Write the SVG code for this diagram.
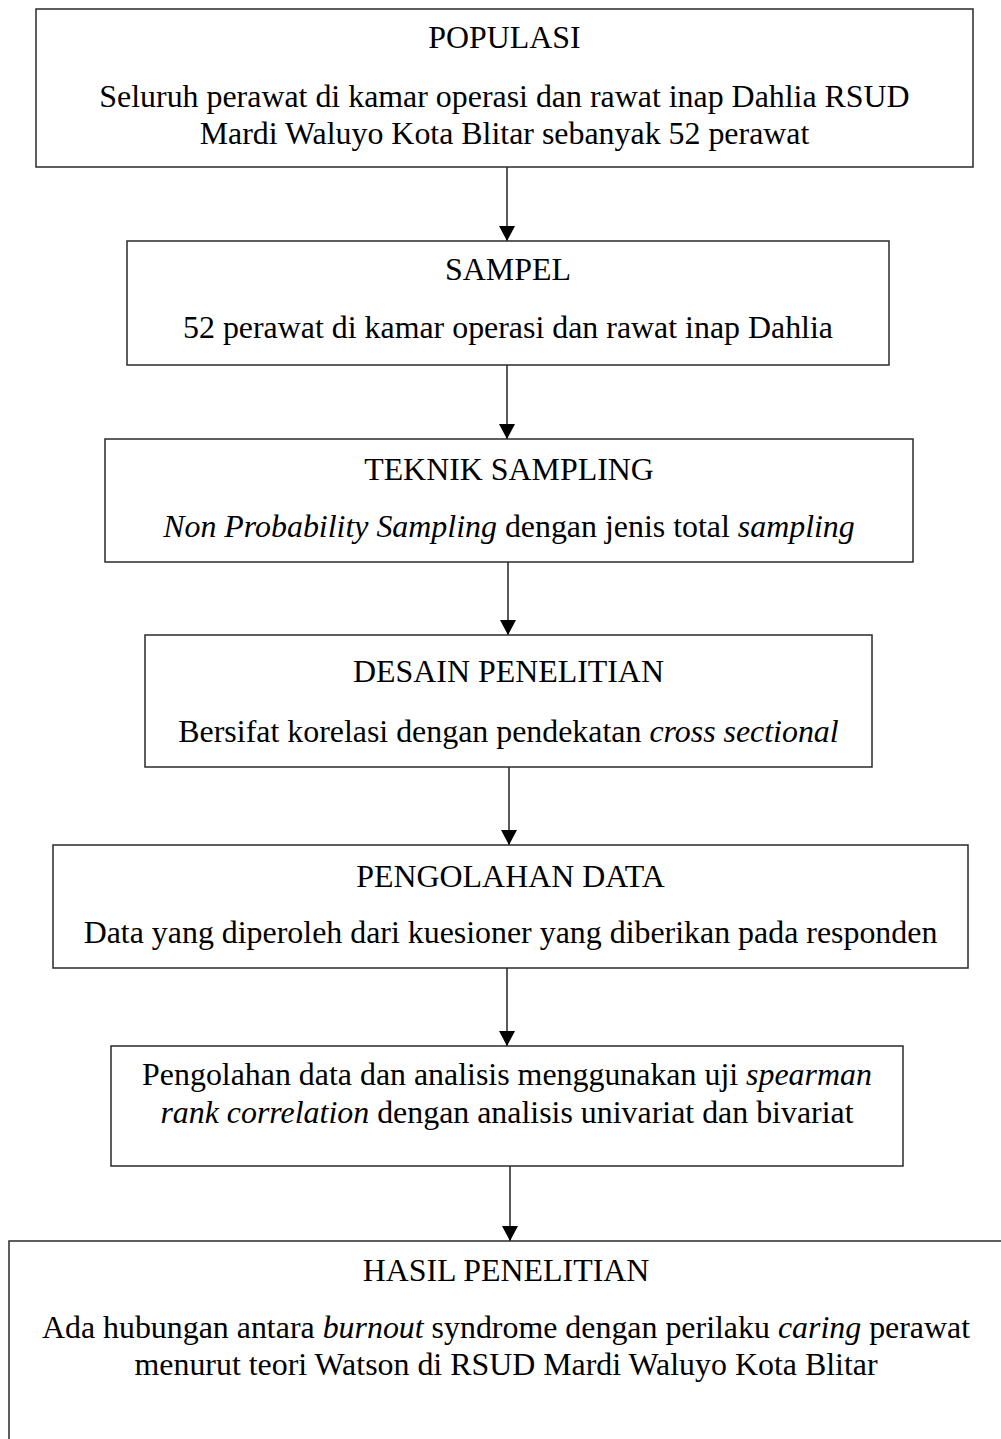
<svg xmlns="http://www.w3.org/2000/svg" width="1001" height="1439" viewBox="0 0 1001 1439">
<style>
.box{fill:#fff;stroke:#2a2a2a;stroke-width:1.5}
.t{font-family:"Liberation Serif","Times New Roman",serif;font-size:31.9px;fill:#000;text-anchor:middle}
.i{font-style:italic}
.c{stroke:#000;stroke-width:1.3;fill:none;marker-end:url(#ah)}
</style>
<defs>
<marker id="ah" viewBox="0 0 15 16" refX="15" refY="8" markerWidth="15" markerHeight="16" markerUnits="userSpaceOnUse" orient="auto">
<path d="M0,0 L15,8 L0,16 Z" fill="#000"/>
</marker>
</defs>
<rect width="1001" height="1439" fill="#fff"/>
<g id="connectors">
<line class="c" x1="507" y1="167" x2="507" y2="241"/>
<line class="c" x1="507" y1="365" x2="507" y2="439"/>
<line class="c" x1="508" y1="562" x2="508" y2="635"/>
<line class="c" x1="509" y1="767" x2="509" y2="845"/>
<line class="c" x1="507" y1="968" x2="507" y2="1046"/>
<line class="c" x1="510" y1="1166" x2="510" y2="1241"/>
</g>
<g id="populasi">
<rect class="box" x="36" y="9" width="937" height="158"/>
<text class="t" x="504.5" y="48">POPULASI</text>
<text class="t" x="504.5" y="107">Seluruh perawat di kamar operasi dan rawat inap Dahlia RSUD</text>
<text class="t" x="504.5" y="144">Mardi Waluyo Kota Blitar sebanyak 52 perawat</text>
</g>
<g id="sampel">
<rect class="box" x="127" y="241" width="762" height="124"/>
<text class="t" x="508" y="280">SAMPEL</text>
<text class="t" x="508" y="338">52 perawat di kamar operasi dan rawat inap Dahlia</text>
</g>
<g id="teknik-sampling">
<rect class="box" x="105" y="439" width="808" height="123"/>
<text class="t" x="509" y="480">TEKNIK SAMPLING</text>
<text class="t" x="509" y="537"><tspan class="i">Non Probability Sampling</tspan> dengan jenis total <tspan class="i">sampling</tspan></text>
</g>
<g id="desain-penelitian">
<rect class="box" x="145" y="635" width="727" height="132"/>
<text class="t" x="508.5" y="682">DESAIN PENELITIAN</text>
<text class="t" x="508.5" y="742">Bersifat korelasi dengan pendekatan <tspan class="i">cross sectional</tspan></text>
</g>
<g id="pengolahan-data">
<rect class="box" x="53" y="845" width="915" height="123"/>
<text class="t" x="510.5" y="887">PENGOLAHAN DATA</text>
<text class="t" x="510.5" y="943">Data yang diperoleh dari kuesioner yang diberikan pada responden</text>
</g>
<g id="analisis">
<rect class="box" x="111" y="1046" width="792" height="120"/>
<text class="t" x="507" y="1085">Pengolahan data dan analisis menggunakan uji <tspan class="i">spearman</tspan></text>
<text class="t" x="507" y="1123"><tspan class="i">rank correlation</tspan> dengan analisis univariat dan bivariat</text>
</g>
<g id="hasil-penelitian">
<rect class="box" x="9" y="1241" width="1010" height="220"/>
<text class="t" x="506" y="1281">HASIL PENELITIAN</text>
<text class="t" x="506" y="1338">Ada hubungan antara <tspan class="i">burnout</tspan> syndrome dengan perilaku <tspan class="i">caring</tspan> perawat</text>
<text class="t" x="506" y="1375">menurut teori Watson di RSUD Mardi Waluyo Kota Blitar</text>
</g>
</svg>
